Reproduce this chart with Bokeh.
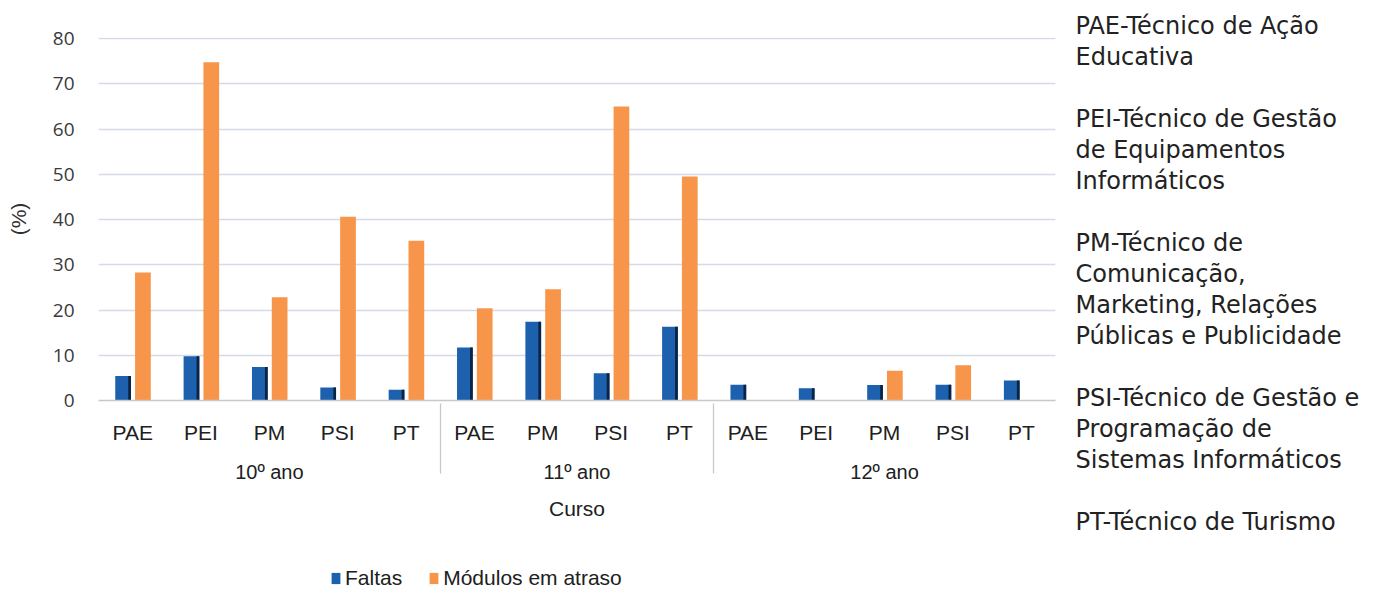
from bokeh.plotting import figure
from bokeh.models import (FactorRange, Range1d, Legend, LegendItem, ColumnDataSource,
                          FixedTicker)
from bokeh.transform import dodge
from bokeh.layouts import row, column
from bokeh.core.properties import value
from bokeh.embed import file_html
from bokeh.resources import INLINE

years = ["10º ano"] * 5 + ["11º ano"] * 4 + ["12º ano"] * 5
courses = ["PAE", "PEI", "PM", "PSI", "PT",
           "PAE", "PM", "PSI", "PT",
           "PAE", "PEI", "PM", "PSI", "PT"]
faltas = [5.4, 9.8, 7.4, 2.9, 2.4,
          11.7, 17.4, 6.0, 16.3,
          3.5, 2.7, 3.4, 3.5, 4.4]
modulos = [28.3, 74.8, 22.8, 40.6, 35.3,
           20.4, 24.6, 65.0, 49.5,
           0, 0, 6.6, 7.8, 0]
y_ticks = [0, 10, 20, 30, 40, 50, 60, 70, 80]
legend_labels = ["Faltas", "Módulos em atraso"]
notes = [
    "PAE-Técnico de Ação", "Educativa", "",
    "PEI-Técnico de Gestão", "de Equipamentos", "Informáticos", "",
    "PM-Técnico de", "Comunicação,", "Marketing, Relações", "Públicas e Publicidade", "",
    "PSI-Técnico de Gestão e", "Programação de", "Sistemas Informáticos", "",
    "PT-Técnico de Turismo",
]

factors = list(zip(years, courses))
src = ColumnDataSource(data=dict(x=factors, faltas=faltas, modulos=modulos))

BLUE = "#1d60ad"
BLUE_DARK = "#0c2444"
ORANGE = "#f7954a"

PW, PH = 1070, 543          # chart figure
QW = 310                    # notes figure width
LH = 48                     # legend strip height
FL, FT, FR, FB = 98, 37, 1055, 400   # frame edges in canvas pixels

p = figure(
    x_range=FactorRange(*factors, range_padding=0, group_padding=0, factor_padding=0),
    y_range=Range1d(0, 80.25),
    width=PW, height=PH,
    output_backend="svg", toolbar_location=None,
    min_border_left=FL, min_border_top=FT, min_border_right=PW - FR, min_border_bottom=PH - FB,
)
p.outline_line_color = None
p.background_fill_color = "white"
p.border_fill_color = "white"

p.vbar(x=dodge("x", -0.14, range=p.x_range), top="faltas", width=0.23,
       source=src, fill_color=BLUE, line_color=None)
p.vbar(x=dodge("x", -0.14 + 0.095, range=p.x_range), top="faltas", width=0.04,
       source=src, fill_color=BLUE_DARK, line_color=None)
p.vbar(x=dodge("x", 0.15, range=p.x_range), top="modulos", width=0.23,
       source=src, fill_color=ORANGE, line_color=None)

# grid
p.xgrid.grid_line_color = None
p.ygrid.grid_line_color = "#d5dbe6"
p.ygrid.grid_line_width = 1.3
p.yaxis.ticker = FixedTicker(ticks=y_ticks)

# y axis
p.yaxis.axis_line_color = None
p.yaxis.major_tick_line_color = None
p.yaxis.minor_tick_line_color = None
p.yaxis.major_label_text_font = "Open Sans"
p.yaxis.major_label_text_font_size = "19px"
p.yaxis.major_label_text_color = "#3a3a3a"
p.yaxis.major_label_standoff = 18
p.yaxis.axis_label = "(%)"
p.yaxis.axis_label_text_font = "Liberation Sans"
p.yaxis.axis_label_text_font_style = "normal"
p.yaxis.axis_label_text_font_size = "21px"
p.yaxis.axis_label_text_color = "#303030"
p.yaxis.axis_label_standoff = 20

# x axis
xa = p.xaxis[0]
xa.axis_line_color = "#c8c8c8"
xa.axis_line_width = 1.3
xa.major_tick_line_color = None
xa.minor_tick_line_color = None
xa.major_label_text_font = "Liberation Sans"
xa.major_label_text_font_size = "21px"
xa.major_label_text_color = "#202020"
xa.major_label_standoff = 14
xa.group_text_font = "Liberation Sans"
xa.group_text_font_size = "20px"
xa.group_text_font_style = "normal"
xa.group_text_color = "#202020"
xa.separator_line_color = "#c8c8c8"
xa.separator_line_width = 1.3
xa.axis_label = "Curso"
xa.axis_label_text_font = "Liberation Sans"
xa.axis_label_text_font_style = "normal"
xa.axis_label_text_font_size = "21px"
xa.axis_label_text_color = "#202020"
xa.axis_label_standoff = 11

# notes figure (pixel-like coordinates, y downwards)
q = figure(width=QW, height=PH, x_range=Range1d(0, QW), y_range=Range1d(PH, 0),
           output_backend="svg", toolbar_location=None, frame_align=False,
           min_border_left=0, min_border_right=0, min_border_top=0, min_border_bottom=0)
q.axis.visible = False
q.grid.visible = False
q.outline_line_color = None
q.border_fill_color = "white"

note_y = []
note_t = []
cy = 25
for t in notes:
    if t:
        note_y.append(cy)
        note_t.append(t)
    cy += 31
q.text(x=[5] * len(note_t), y=note_y, text=note_t, text_font=value("DejaVu Sans"),
       text_font_size="24px", text_color="#222222", text_baseline="middle", text_align="left")

# legend strip
L = figure(width=PW + QW, height=LH, x_range=Range1d(0, 1), y_range=Range1d(0, 1),
           output_backend="svg", toolbar_location=None, frame_align=False,
           min_border_left=0, min_border_right=0, min_border_top=0, min_border_bottom=0)
L.axis.visible = False
L.grid.visible = False
L.outline_line_color = None
# zero-height swatch renderers: they draw nothing, only supply the legend swatches
lr1 = L.vbar(x=[0.5], top=[0], bottom=[0], width=0.01, fill_color=BLUE, line_color=None)
lr2 = L.vbar(x=[0.5], top=[0], bottom=[0], width=0.01, fill_color=ORANGE, line_color=None)
legend = Legend(items=[LegendItem(label=legend_labels[0], renderers=[lr1]),
                       LegendItem(label=legend_labels[1], renderers=[lr2])],
                orientation="horizontal", location=(330, 1))
legend.label_text_font = "Liberation Sans"
legend.label_text_font_size = "21px"
legend.label_text_color = "#202020"
legend.glyph_width = 11
legend.glyph_height = 14
legend.label_standoff = 4
legend.spacing = 26
legend.border_line_color = None
legend.background_fill_alpha = 0
legend.margin = 0
legend.padding = 0
L.add_layout(legend, "center")

layout = column(row(p, q), L)
open("out.html", "w").write(file_html(layout, INLINE))
